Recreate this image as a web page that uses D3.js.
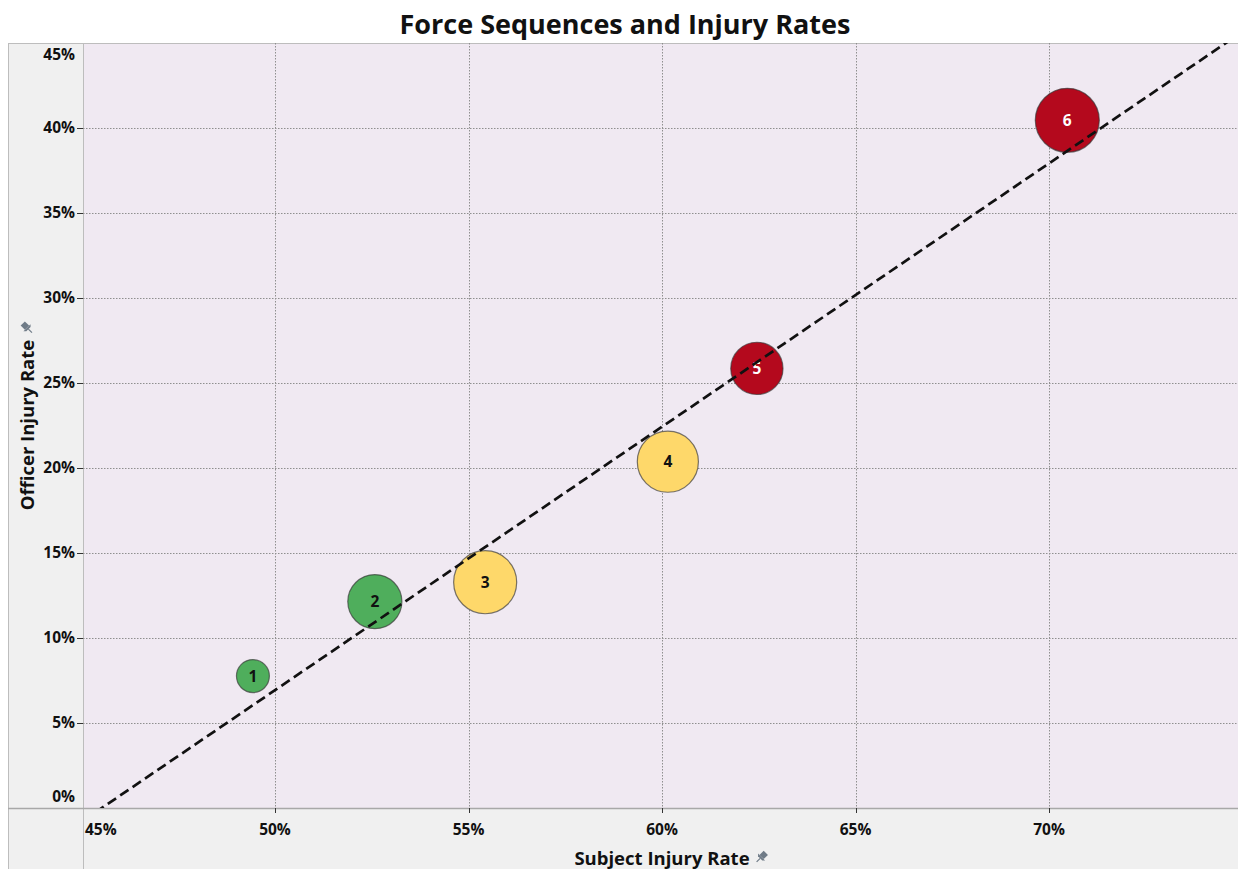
<!DOCTYPE html>
<html><head><meta charset="utf-8">
<script src="https://cdn.jsdelivr.net/npm/d3@7"></script>
<style>body{margin:0;background:#fff;} text{font-family:"Open Sans","Noto Sans",sans-serif;}</style>
</head><body><svg id="c" width="1238" height="869"></svg>
<script>
// ---- data ----
const sequences = ["1", "2", "3", "4", "5", "6"];
const subjectRate = [49.43, 52.58, 55.43, 60.15, 62.45, 70.47];
const officerRate = [7.76, 12.14, 13.28, 20.37, 25.86, 40.45];
const sizeValues = [270, 730, 990, 930, 680, 1020];
const riskGroup = ["low", "low", "medium", "medium", "high", "high"];
const xTicks = [45, 50, 55, 60, 65, 70];
const yTicks = [0, 5, 10, 15, 20, 25, 30, 35, 40, 45];

const colors = {low: "#4fae5c", medium: "#fed86a", high: "#b4091d"};
const labelColors = {low: "#111", medium: "#111", high: "#fff"};

const W = 1238, H = 869;
const L = 83, R = 1238, T = 43, B = 808;
const svg = d3.select("#c");

const x = d3.scaleLinear().domain([45.04, 74.88]).range([L, R]);
const y = d3.scaleLinear().domain([0, 45]).range([B, T]);
const r = d3.scaleSqrt().domain([0, d3.max(sizeValues)]).range([0, 32]);

// panels
svg.append("rect").attr("x", 8).attr("y", T).attr("width", L - 8).attr("height", H - T).attr("fill", "#f0f0f0");
svg.append("rect").attr("x", 8).attr("y", B).attr("width", W - 8).attr("height", H - B).attr("fill", "#f0f0f0");
svg.append("rect").attr("x", L).attr("y", T).attr("width", R - L).attr("height", B - T).attr("fill", "#f0e9f2");

// borders
const bc = "#bdbdbd";
svg.append("line").attr("x1", 8).attr("x2", W).attr("y1", T + 0.5).attr("y2", T + 0.5).attr("stroke", bc);
svg.append("line").attr("x1", 8.5).attr("x2", 8.5).attr("y1", T).attr("y2", H).attr("stroke", bc);
svg.append("line").attr("x1", L + 0.5).attr("x2", L + 0.5).attr("y1", T).attr("y2", H).attr("stroke", bc);
svg.append("line").attr("x1", 8).attr("x2", W).attr("y1", B + 0.5).attr("y2", B + 0.5).attr("stroke", "#a8a8a8").attr("stroke-width", 1.5);

// grid
const grid = svg.append("g");
grid.selectAll(".gx").data(xTicks.filter(d => d > 45)).enter().append("line")
  .attr("x1", d => Math.round(x(d)) + 0.5).attr("x2", d => Math.round(x(d)) + 0.5)
  .attr("y1", T).attr("y2", B).attr("stroke", "#8f8f8f").attr("stroke-dasharray", "1.5,1.5");
grid.selectAll(".gy").data(yTicks.filter(d => d > 0 && d < 45)).enter().append("line")
  .attr("y1", d => Math.round(y(d)) + 0.5).attr("y2", d => Math.round(y(d)) + 0.5)
  .attr("x1", L).attr("x2", R).attr("stroke", "#8f8f8f").attr("stroke-dasharray", "1.5,1.5");

// tick marks
svg.append("g").selectAll("line").data(xTicks.filter(d => d > 45)).enter().append("line")
  .attr("x1", d => Math.round(x(d)) + 0.5).attr("x2", d => Math.round(x(d)) + 0.5)
  .attr("y1", B).attr("y2", B + 5).attr("stroke", "#333");
svg.append("g").selectAll("line").data(yTicks.filter(d => d > 0 && d < 45)).enter().append("line")
  .attr("y1", d => Math.round(y(d)) + 0.5).attr("y2", d => Math.round(y(d)) + 0.5)
  .attr("x1", L - 6).attr("x2", L).attr("stroke", "#333");

// tick labels
svg.append("g").selectAll("text").data(xTicks).enter().append("text")
  .attr("x", d => d === 45 ? L + 2 : x(d))
  .attr("y", 835)
  .attr("text-anchor", d => d === 45 ? "start" : "middle")
  .attr("font-size", 15.5).attr("font-weight", 700).attr("fill", "#111")
  .text(d => d + "%");
svg.append("g").selectAll("text").data(yTicks).enter().append("text")
  .attr("x", 75)
  .attr("y", d => d === 45 ? 55 : d === 0 ? 797 : y(d))
  .attr("dy", "0.35em")
  .attr("text-anchor", "end")
  .attr("font-size", 15.5).attr("font-weight", 700).attr("fill", "#111")
  .text(d => d + "%");

// bubbles
const data = sequences.map((s, i) => ({s, xv: subjectRate[i], yv: officerRate[i], size: sizeValues[i], g: riskGroup[i]}));
const bub = svg.append("g");
bub.selectAll("circle").data(data).enter().append("circle")
  .attr("cx", d => x(d.xv)).attr("cy", d => y(d.yv)).attr("r", d => r(d.size))
  .attr("fill", d => colors[d.g]).attr("stroke", "rgba(50,50,50,0.65)").attr("stroke-width", 1.2);
bub.selectAll("text").data(data).enter().append("text")
  .attr("x", d => x(d.xv)).attr("y", d => y(d.yv)).attr("dy", "0.35em")
  .attr("text-anchor", "middle").attr("font-size", 15.5).attr("font-weight", 700)
  .attr("fill", d => labelColors[d.g]).text(d => d.s);

// trend line (least squares)
const mx = d3.mean(subjectRate), my = d3.mean(officerRate);
const slope = d3.sum(subjectRate.map((v, i) => (v - mx) * (officerRate[i] - my))) / d3.sum(subjectRate.map(v => (v - mx) * (v - mx)));
const icpt = my - slope * mx;
svg.append("clipPath").attr("id", "pc").append("rect").attr("x", L).attr("y", T).attr("width", R - L).attr("height", B - T);
const x0 = x.domain()[0], x1 = x.domain()[1];
svg.append("line").attr("clip-path", "url(#pc)")
  .attr("x1", x(x0)).attr("y1", y(slope * x0 + icpt))
  .attr("x2", x(x1)).attr("y2", y(slope * x1 + icpt))
  .attr("stroke", "#111").attr("stroke-width", 2.7).attr("stroke-dasharray", "10,5");

// title
svg.append("text").attr("x", 625).attr("y", 34).attr("text-anchor", "middle")
  .attr("font-size", 27).attr("font-weight", 700).attr("fill", "#111").text("Force Sequences and Injury Rates");

// pin icon
function pin(g, cx, cy) {
  const p = g.append("g").attr("transform", `translate(${cx},${cy}) rotate(45)`);
  p.append("rect").attr("x", -3).attr("y", -6).attr("width", 6).attr("height", 6).attr("fill", "#6f7b87");
  p.append("path").attr("d", "M-5,0 L5,0 L3,2 L-3,2 Z").attr("fill", "#6f7b87");
  p.append("line").attr("x1", 0).attr("y1", 2).attr("x2", 0).attr("y2", 7).attr("stroke", "#6f7b87").attr("stroke-width", 1.2);
}

// axis titles
const xt = svg.append("text").attr("x", 662).attr("y", 865).attr("text-anchor", "middle")
  .attr("font-size", 18.5).attr("font-weight", 700).attr("fill", "#111").text("Subject Injury Rate");
const xtw = xt.node().getComputedTextLength();
pin(svg, 662 + xtw / 2 + 12, 857);
const yt = svg.append("text").attr("transform", "translate(34,425) rotate(-90)").attr("text-anchor", "middle")
  .attr("font-size", 18.5).attr("font-weight", 700).attr("fill", "#111").text("Officer Injury Rate");
const ytw = yt.node().getComputedTextLength();
const pg = svg.append("g").attr("transform", `translate(27,${425 - ytw / 2 - 12}) rotate(-90)`);
pin(pg, 0, 0);
</script></body></html>
